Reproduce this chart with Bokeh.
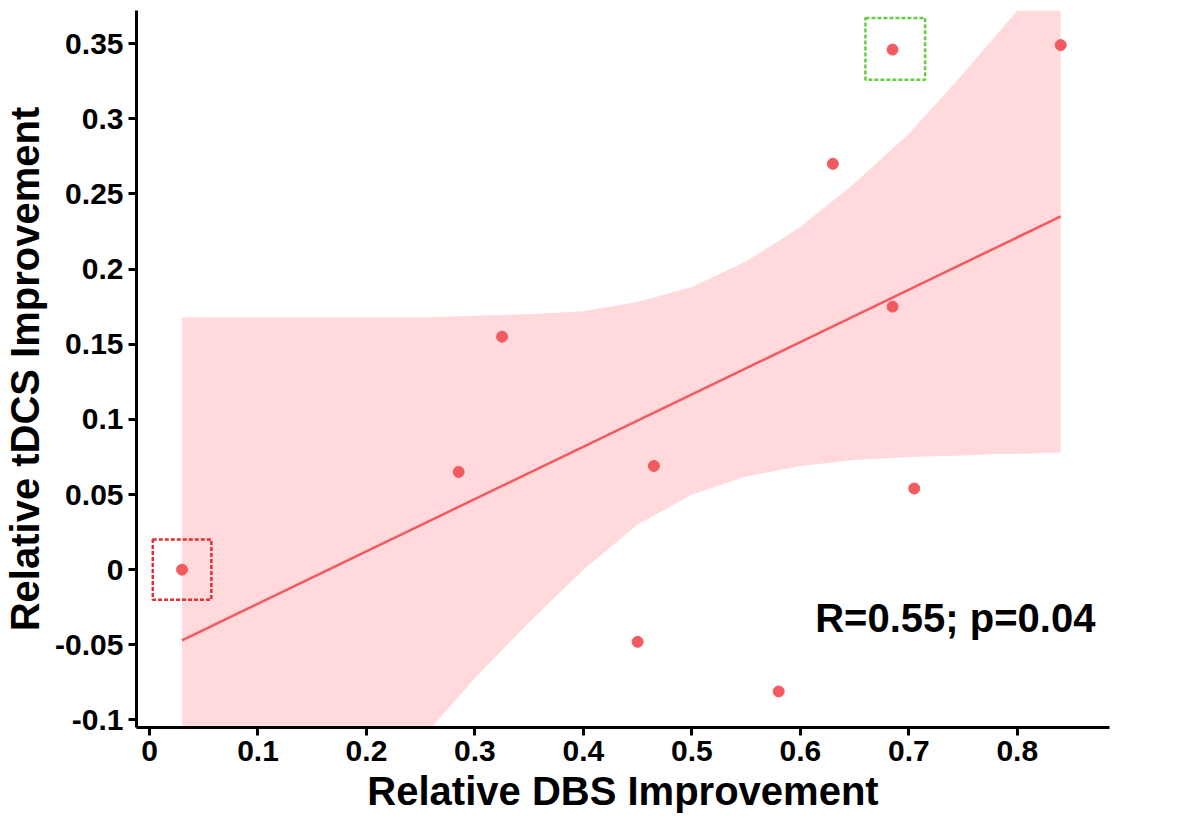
from bokeh.plotting import figure
from bokeh.models import Range1d, FixedTicker, Label
from bokeh.embed import file_html
from bokeh.resources import INLINE

dbs = [0.03, 0.285, 0.325, 0.45, 0.465, 0.58, 0.63, 0.685, 0.685, 0.705, 0.84]
tdcs = [0.0, 0.065, 0.155, -0.048, 0.069, -0.081, 0.27, 0.175, 0.346, 0.054, 0.349]
fit_x = [0.03, 0.84]
fit_y = [-0.047, 0.235]
band_x = [0.03, 0.2, 0.26, 0.3, 0.35, 0.4, 0.45, 0.5, 0.55, 0.6, 0.65, 0.7, 0.75, 0.78, 0.8, 0.84]
band_up = [0.168, 0.168, 0.168, 0.169, 0.17, 0.172, 0.178, 0.188, 0.205, 0.228, 0.257, 0.29, 0.33, 0.355, 0.372, 0.372]
band_lo = [-0.25, -0.16, -0.105, -0.072, -0.035, 0.0, 0.03, 0.05, 0.062, 0.069, 0.073, 0.075, 0.076, 0.077, 0.077, 0.078]
xticks = [0, 0.1, 0.2, 0.3, 0.4, 0.5, 0.6, 0.7, 0.8]
yticks = [-0.1, -0.05, 0, 0.05, 0.1, 0.15, 0.2, 0.25, 0.3, 0.35]
ylabels = {-0.1: "-0.1", -0.05: "-0.05", 0: "0", 0.05: "0.05", 0.1: "0.1", 0.15: "0.15",
           0.2: "0.2", 0.25: "0.25", 0.3: "0.3", 0.35: "0.35"}
xlabels = {0: "0", 0.1: "0.1", 0.2: "0.2", 0.3: "0.3", 0.4: "0.4", 0.5: "0.5", 0.6: "0.6", 0.7: "0.7", 0.8: "0.8"}

F = "Liberation Sans"
p = figure(width=1184, height=815, output_backend="svg", toolbar_location=None,
           x_range=Range1d(-0.012, 0.885), y_range=Range1d(-0.105, 0.372),
           min_border_left=10, min_border_top=10, min_border_right=75, min_border_bottom=10)
p.outline_line_color = None
p.grid.visible = False
p.varea(x=band_x, y1=band_lo, y2=band_up, fill_color="#ffd9dc", fill_alpha=1)
p.line(fit_x, fit_y, line_color="#f35a60", line_width=2.5)
p.scatter(dbs, tdcs, size=11, fill_color="#f35a60", line_color="#f35a60")
p.quad(left=[0.003], right=[0.057], bottom=[-0.02], top=[0.02], fill_color=None,
       line_color="#e03030", line_dash="4 2", line_width=2.5)
p.quad(left=[0.66], right=[0.715], bottom=[0.326], top=[0.367], fill_color=None,
       line_color="#66cc44", line_dash="4 2", line_width=2.5)
p.add_layout(Label(x=0.872, y=-0.047, text="R=0.55; p=0.04", text_align="right",
                   text_color="black", text_font=F, text_font_style="bold", text_font_size="40px"))

for ax in (p.xaxis[0], p.yaxis[0]):
    ax.axis_line_width = 3
    ax.axis_line_color = "black"
    ax.major_tick_line_width = 3
    ax.major_tick_line_color = "black"
    ax.major_tick_out = 8
    ax.major_tick_in = 0
    ax.minor_tick_line_color = None
    ax.major_label_text_font = F
    ax.major_label_text_font_style = "bold"
    ax.major_label_text_font_size = "30px"
    ax.major_label_text_color = "black"
    ax.axis_label_text_font = F
    ax.axis_label_text_font_style = "bold"
    ax.axis_label_text_font_size = "40px"
    ax.axis_label_text_color = "black"
p.xaxis.ticker = FixedTicker(ticks=xticks)
p.yaxis.ticker = FixedTicker(ticks=yticks)
p.xaxis.major_label_overrides = xlabels
p.yaxis.major_label_overrides = ylabels
p.xaxis.axis_label = "Relative DBS Improvement"
p.yaxis.axis_label = "Relative tDCS Improvement"

open("out.html", "w").write(file_html(p, INLINE))
